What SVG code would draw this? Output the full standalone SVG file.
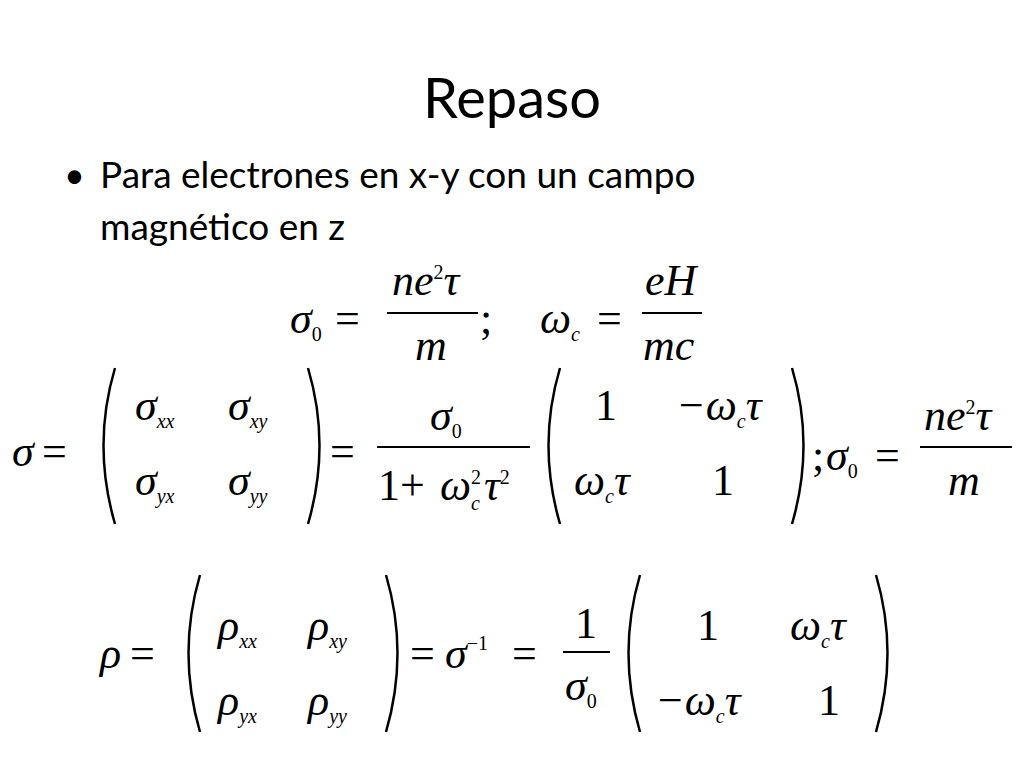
<svg xmlns="http://www.w3.org/2000/svg" width="1024" height="768" viewBox="0 0 1024 768">
<style>
.t{font-family:Lato,"Open Sans",sans-serif;fill:#000}
.m{font-family:"Liberation Serif",serif;font-style:italic;font-size:44px;fill:#000}
.r{font-family:"Liberation Serif",serif;font-size:44px;fill:#000}
.s{font-size:20px;font-style:normal}
.i{font-size:20px;font-style:italic}
.p{fill:none;stroke:#000;stroke-width:2.5}
.l{stroke:#000;stroke-width:2}
</style>
<rect width="1024" height="768" fill="#fff"/>
<text class="t" x="512" y="118" font-size="56" text-anchor="middle">Repaso</text>
<text class="t" x="64" y="188" font-size="36">•</text>
<text class="t" x="100" y="188" font-size="37">Para electrones en x-y con un campo</text>
<text class="t" x="100" y="240" font-size="37">magnético en z</text>
<g id="eq1">
<text class="m" x="290" y="333">σ<tspan class="r s" dy="8">0</tspan></text>
<text class="r" x="335" y="333">=</text>
<text class="m" x="392" y="295">ne<tspan class="r s" dy="-16">2</tspan><tspan dy="16">τ</tspan></text>
<line class="l" x1="387" y1="313" x2="478" y2="313"/>
<text class="m" x="415" y="360">m</text>
<text class="r" x="480" y="333">;</text>
<text class="m" x="540" y="333">ω<tspan class="i" dy="8">c</tspan></text>
<text class="r" x="597" y="333">=</text>
<text class="m" x="645" y="295">eH</text>
<line class="l" x1="642" y1="313" x2="702" y2="313"/>
<text class="m" x="643" y="360">mc</text>
</g>
<g id="eq2">
<text class="m" x="12" y="466">σ</text><text class="r" x="42" y="466">=</text>
<path class="p" d="M115 368 Q92 445 115 524"/>
<text class="m" x="135" y="420">σ<tspan class="i" dy="8">xx</tspan></text>
<text class="m" x="228" y="420">σ<tspan class="i" dy="8">xy</tspan></text>
<text class="m" x="135" y="495">σ<tspan class="i" dy="8">yx</tspan></text>
<text class="m" x="228" y="495">σ<tspan class="i" dy="8">yy</tspan></text>
<path class="p" d="M308 368 Q331 445 308 524"/>
<text class="r" x="330" y="466">=</text>
<text class="m" x="430" y="430">σ<tspan class="r s" dy="8">0</tspan></text>
<line class="l" x1="377" y1="447" x2="530" y2="447"/>
<text class="r" x="378" y="500">1+</text>
<text class="m" x="440" y="500">ω<tspan class="r s" dy="-16">2</tspan><tspan class="i" dx="-10" dy="26">c</tspan><tspan dx="4" dy="-10">τ</tspan><tspan class="r s" dy="-16">2</tspan></text>
<path class="p" d="M560 368 Q537 445 560 524"/>
<text class="r" x="595" y="420">1</text>
<text class="m" x="676" y="420">−ω<tspan class="i" dy="8">c</tspan><tspan dy="-8">τ</tspan></text>
<text class="m" x="574" y="495">ω<tspan class="i" dy="8">c</tspan><tspan dy="-8">τ</tspan></text>
<text class="r" x="712" y="495">1</text>
<path class="p" d="M792 368 Q815 445 792 524"/>
<text class="r" x="812" y="470">;</text>
<text class="m" x="826" y="470">σ<tspan class="r s" dy="8">0</tspan></text>
<text class="r" x="875" y="470">=</text>
<text class="m" x="924" y="430">ne<tspan class="r s" dy="-16">2</tspan><tspan dy="16">τ</tspan></text>
<line class="l" x1="920" y1="447" x2="1012" y2="447"/>
<text class="m" x="948" y="495">m</text>
</g>
<g id="eq3">
<text class="m" x="100" y="668">ρ</text><text class="r" x="130" y="668">=</text>
<path class="p" d="M200 575 Q177 653 200 732"/>
<text class="m" x="218" y="640">ρ<tspan class="i" dy="8">xx</tspan></text>
<text class="m" x="308" y="640">ρ<tspan class="i" dy="8">xy</tspan></text>
<text class="m" x="218" y="715">ρ<tspan class="i" dy="8">yx</tspan></text>
<text class="m" x="308" y="715">ρ<tspan class="i" dy="8">yy</tspan></text>
<path class="p" d="M386 575 Q409 653 386 732"/>
<text class="r" x="410" y="668">=</text>
<text class="m" x="445" y="668">σ<tspan class="r s" dy="-18">−1</tspan></text>
<text class="r" x="512" y="668">=</text>
<text class="r" x="575" y="638">1</text>
<line class="l" x1="563" y1="652" x2="610" y2="652"/>
<text class="m" x="565" y="700">σ<tspan class="r s" dy="8">0</tspan></text>
<path class="p" d="M640 575 Q617 653 640 732"/>
<text class="r" x="697" y="640">1</text>
<text class="m" x="790" y="640">ω<tspan class="i" dy="8">c</tspan><tspan dy="-8">τ</tspan></text>
<text class="m" x="655" y="715">−ω<tspan class="i" dy="8">c</tspan><tspan dy="-8">τ</tspan></text>
<text class="r" x="818" y="715">1</text>
<path class="p" d="M876 575 Q899 653 876 732"/>
</g>
</svg>
